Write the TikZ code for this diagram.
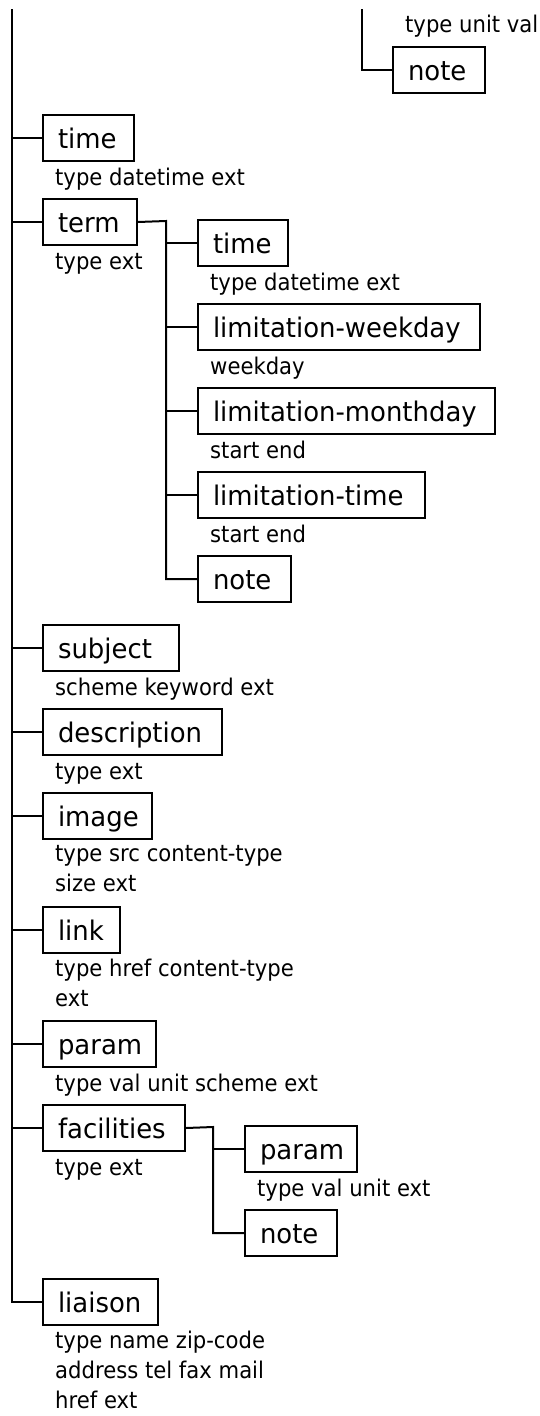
\documentclass[tikz,border=0pt]{standalone}
\usepackage{fontspec}
\setmainfont{DejaVu Sans}
\newfontfamily\lblfam{DejaVu Sans}[FakeStretch=0.96]
\newfontfamily\attfam{DejaVu Sans}[FakeStretch=0.92]
\newcommand\lblfont{\lblfam\fontsize{27}{32}\selectfont}
\newcommand\attfont{\attfam\fontsize{23}{30}\selectfont}
\newcommand\lbl[2]{\makebox[#1pt][l]{#2}}
\tikzset{
  box/.style={draw, line width=2pt, anchor=north west, inner xsep=15pt, inner ysep=0pt,
    minimum height=46pt, text height=23pt, text depth=3pt, font=\lblfont},
  attr/.style={anchor=north west, inner sep=0pt, align=left, font=\attfont,
    execute at begin node={\rule{0pt}{18pt}}},
  wire/.style={line width=2pt},
}
\begin{document}
\begin{tikzpicture}[x=1pt,y=-1pt]
\fill[white] (0,0) rectangle (540,1416);
\useasboundingbox (0,0) rectangle (540,1416);

% trunk top points
\coordinate (trunktop) at (12,9);
\coordinate (topbus) at (362,9);

% top remnant
\node[attr] (a0) at (405,14) {type unit val};
\node[box] (note0) at (392,46) {\lbl{62}{note}};

% main boxes
\node[box] (time) at (42,114) {\lbl{61}{time}};
\node[attr] (atime) at (55,167) {type datetime ext};
\node[box] (term) at (42,198) {\lbl{64}{term}};
\node[attr] (aterm) at (55,251) {type ext};
\node[box] (subject) at (42,624) {\lbl{106}{subject}};
\node[attr] (asubject) at (55,677) {scheme keyword ext};
\node[box] (description) at (42,708) {\lbl{149}{description}};
\node[attr] (adescription) at (55,761) {type ext};
\node[box] (image) at (42,792) {\lbl{79}{image}};
\node[attr] (aimage) at (55,845) {type src content-type\\size ext};
\node[box] (link) at (42,906) {\lbl{47}{link}};
\node[attr] (alink) at (55,959) {type href content-type\\ext};
\node[box] (param) at (42,1020) {\lbl{83}{param}};
\node[attr] (aparam) at (55,1073) {type val unit scheme ext};
\node[box] (facilities) at (42,1104) {\lbl{112}{facilities}};
\node[attr] (afacilities) at (55,1157) {type ext};
\node[box] (liaison) at (42,1278) {\lbl{85}{liaison}};
\node[attr] (aliaison) at (55,1331) {type name zip-code\\address tel fax mail\\href ext};

% term children
\node[box] (ttime) at (197,219) {\lbl{60}{time}};
\node[attr] (attime) at (210,272) {type datetime ext};
\node[box] (tweek) at (197,303) {\lbl{252}{limitation-weekday}};
\node[attr] (atweek) at (210,356) {weekday};
\node[box] (tmonth) at (197,387) {\lbl{267}{limitation-monthday}};
\node[attr] (atmonth) at (210,440) {start end};
\node[box] (tltime) at (197,471) {\lbl{197}{limitation-time}};
\node[attr] (atltime) at (210,524) {start end};
\node[box] (tnote) at (197,555) {\lbl{63}{note}};

% facilities children
\node[box] (fparam) at (244,1125) {\lbl{82}{param}};
\node[attr] (afparam) at (257,1178) {type val unit ext};
\node[box] (fnote) at (244,1209) {\lbl{62}{note}};

% connectors: top remnant
\draw[wire] (topbus) |- (note0.west);

% trunk
\draw[wire] (trunktop) |- (liaison.west);
\foreach \n in {time,term,subject,description,image,link,param,facilities}
  \draw[wire] (\n.west) -- (\n.west -| trunktop);

% term bus
\coordinate (termbus) at (166,221);
\draw[wire] (term.east) -- (termbus) |- (tnote.west);
\foreach \n in {ttime,tweek,tmonth,tltime}
  \draw[wire] (\n.west) -- (\n.west -| termbus);

% facilities bus
\coordinate (facbus) at (213,1127);
\draw[wire] (facilities.east) -- (facbus) |- (fnote.west);
\draw[wire] (fparam.west) -- (fparam.west -| facbus);
\end{tikzpicture}
\end{document}
